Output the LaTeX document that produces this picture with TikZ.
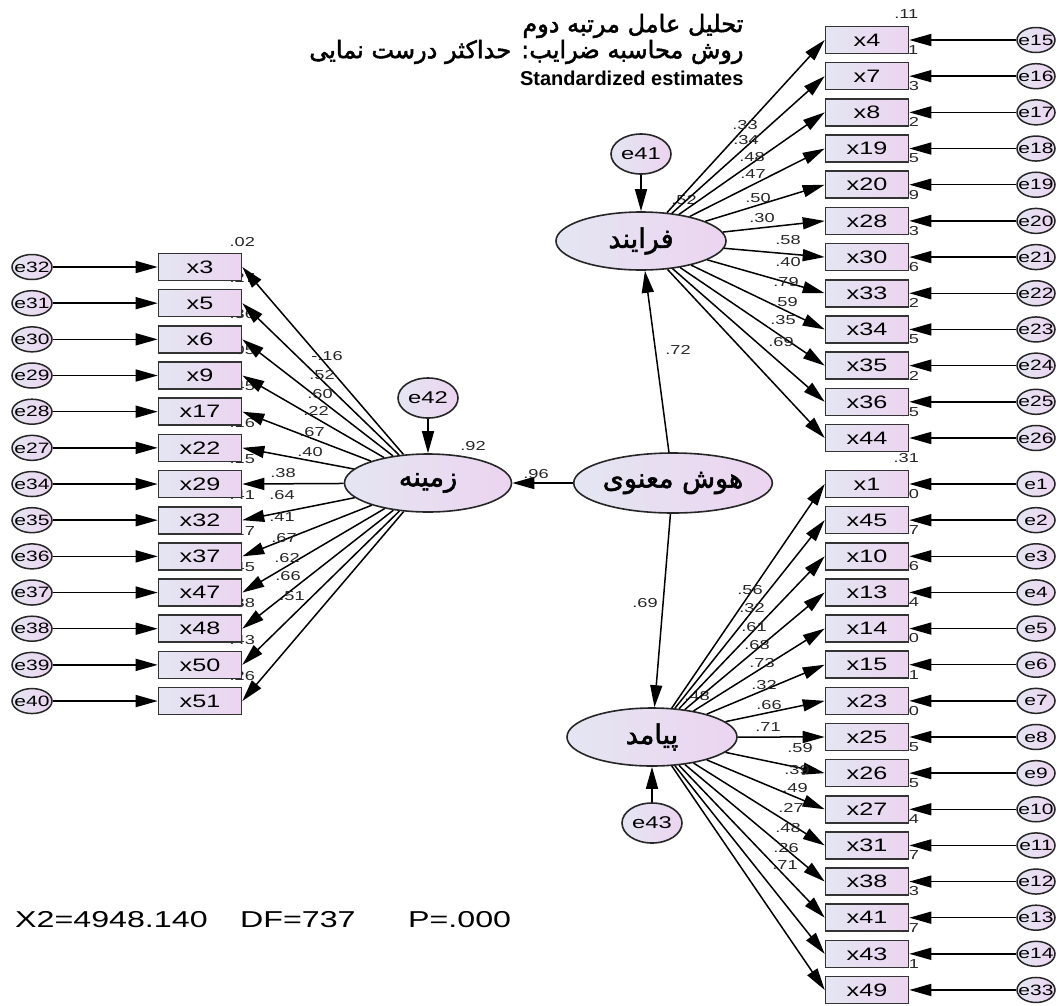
\documentclass[tikz,border=0pt]{standalone}
\usepackage{fontspec}
\setmainfont{Liberation Sans}[FakeStretch=1.4]
\newfontfamily\titlefont{Liberation Sans}
\newfontfamily\fabold[Script=Arabic,FakeBold=2]{DejaVu Sans}
\TeXXeTstate=1
\usetikzlibrary{shapes.geometric,arrows.meta}
\pgfdeclarelayer{bg}
\pgfsetlayers{bg,main}

\definecolor{shL}{RGB}{228,230,242}
\definecolor{shR}{RGB}{236,212,240}

\tikzset{
  obs/.style={rectangle, draw=black!80, line width=1.6pt, minimum width=83pt, minimum height=27pt, inner sep=0pt, left color=shL, right color=shR, font=\fontsize{18}{18}\selectfont},
  err/.style={ellipse, draw=black!85, line width=1.5pt, minimum width=40pt, minimum height=25pt, inner sep=0pt, left color=shL, right color=shR},
  errtxt/.style={font=\fontsize{15}{15}\selectfont, inner sep=0pt},
  errbig/.style={ellipse, draw=black!85, line width=1.6pt, minimum width=60pt, minimum height=40pt, inner sep=0pt, left color=shL, right color=shR, font=\fontsize{17}{17}\selectfont},
  latent/.style={ellipse, draw=black!85, line width=1.6pt, minimum width=170pt, minimum height=58pt, inner sep=0pt, left color=shL, right color=shR, font=\fabold\fontsize{27}{27}\selectfont},
  arr/.style={draw=black, line width=1.5pt, -{Triangle[length=22pt,width=12pt]}},
  ldg/.style={font=\fontsize{13}{13}\selectfont, inner sep=0pt, text=black!85},
}

\begin{document}
\begin{tikzpicture}[x=1pt,y=-1pt]

    \useasboundingbox (0,0) rectangle (1057,1005);

    % Titles
    \node[font=\fabold\fontsize{24}{24}\selectfont, anchor=east] (t1) at (747,26) {\beginR تحلیل عامل مرتبه دوم\endR};
    \node[font=\fabold\fontsize{24}{24}\selectfont, anchor=east] (t2) at (747,52) {\beginR روش محاسبه ضرایب: حداکثر درست نمایی\endR};
    \node[font=\titlefont\bfseries\fontsize{20}{20}\selectfont, anchor=east] (t3) at (747,78) {Standardized estimates};

    % Latent variables
    \node[latent] (fr) at (641,241) {\beginR فرایند\endR};
    \node[latent, minimum width=167pt] (zm) at (428,483) {\beginR زمینه\endR};
    \node[latent, minimum width=177pt, minimum height=60pt] (hm) at (673,483) {\beginR هوش معنوی\endR};
    \node[latent] (pm) at (652,737) {\beginR پیامد\endR};

    \node[errbig] (e41) at (641,154) {e41};
    \node[errbig] (e42) at (428,398) {e42};
    \node[errbig] (e43) at (652,823) {e43};

    \draw[arr] (e41) -- (fr);
    \draw[arr] (e42) -- (zm);
    \draw[arr] (e43) -- (pm);
    \draw[arr] (hm) -- (zm);
    \draw[arr] (hm) -- (fr);
    \draw[arr] (hm) -- (pm);

    \node[ldg] (rfr) at (684,200) {.52};
    \node[ldg] (rzm) at (473,446) {.92};
    \node[ldg] (rpm) at (697,696) {.48};
    \node[ldg] (phz) at (536,474) {.96};
    \node[ldg] (phf) at (678,350) {.72};
    \node[ldg] (php) at (645,603) {.69};

    % Left indicators
    \foreach \nm/\ee/\rs [count=\i from 0] in {3/32/.02,5/31/.27,6/30/.36,9/29/.05,17/28/.45,22/27/.16,29/34/.15,32/35/.41,37/36/.17,47/37/.45,48/38/.38,50/39/.43,51/40/.26} {
        \pgfmathsetmacro{\yy}{267+36.17*\i}
        \node[obs] (x\nm) at (200,\yy) {x\nm};
        \node[err, label={[errtxt]center:e\ee}] (e\ee) at (32,\yy) {};
        \draw[arr] (e\ee) -- (x\nm);
        \draw[arr] (zm) -- (x\nm.east);
        \begin{pgfonlayer}{bg}
            \node[ldg] (r\nm) at ([yshift=11pt]x\nm.north east) {\rs};
        \end{pgfonlayer}
    }

    % Right indicators, top
    \foreach \nm/\ee/\rs [count=\i from 0] in {4/15/.11,7/16/.11,8/17/.23,19/18/.22,20/19/.25,28/20/.09,30/21/.33,33/22/.16,34/23/.62,35/24/.35,36/25/.12,44/26/.35} {
        \pgfmathsetmacro{\yy}{40+36.18*\i}
        \node[obs] (x\nm) at (867,\yy) {x\nm};
        \node[err, minimum width=38pt, label={[errtxt]center:e\ee}] (e\ee) at (1036,\yy) {};
        \draw[arr] (e\ee) -- (x\nm);
        \draw[arr] (fr) -- (x\nm.west);
        \begin{pgfonlayer}{bg}
            \node[ldg] (r\nm) at ([xshift=-3pt,yshift=12pt]x\nm.north east) {\rs};
        \end{pgfonlayer}
    }

    % Right indicators, bottom
    \foreach \nm/\ee/\rs [count=\i from 0] in {1/1/.31,45/2/.10,10/3/.37,13/4/.46,14/5/.54,15/6/.10,23/7/.31,25/8/.50,26/9/.35,27/10/.15,31/11/.24,38/12/.07,41/13/.23,43/14/.07,49/33/.51} {
        \pgfmathsetmacro{\yy}{484+36.14*\i}
        \node[obs] (x\nm) at (867,\yy) {x\nm};
        \node[err, minimum width=38pt, label={[errtxt]center:e\ee}] (e\ee) at (1036,\yy) {};
        \draw[arr] (e\ee) -- (x\nm);
        \draw[arr] (pm) -- (x\nm.west);
        \begin{pgfonlayer}{bg}
            \node[ldg] (r\nm) at ([xshift=-3pt,yshift=12pt]x\nm.north east) {\rs};
        \end{pgfonlayer}
    }

    % Loadings
    \foreach \nm/\lx/\ly/\lab in {3/327/356/-.16,5/322/375/.52,6/320/394/.60,9/316/411/.22,17/312/432/.67,22/310/452/.40,29/283/473/.38,32/282/495/.64,37/282/517/.41,47/284/538/.67,48/287/558/.62,50/288/576/.66,51/292/596/.51,
        4/745/125/.33,7/746/140/.34,8/752/157/.48,19/753/174/.47,20/758/198/.50,28/762/218/.30,30/788/240/.58,33/788/262/.40,34/786/282/.79,35/785/302/.59,36/783/320/.35,44/781/342/.69,
        1/750/590/.56,45/752/608/.32,10/754/627/.61,13/757/645/.68,14/762/663/.73,15/764/685/.32,23/769/705/.66,25/768/727/.71,26/800/748/.59,27/797/770/.39,31/795/788/.49,38/791/808/.27,41/788/828/.48,43/786/848/.26,49/785/865/.71} {
        \node[ldg] (l\nm) at (\lx,\ly) {\lab};
    }

    % Fit
    \node[anchor=west, font=\fontsize{23}{23}\selectfont, inner sep=0pt] (fx) at (15,920) {X2=4948.140};
    \node[anchor=west, font=\fontsize{23}{23}\selectfont, inner sep=0pt] (fd) at (240,920) {DF=737};
    \node[anchor=west, font=\fontsize{23}{23}\selectfont, inner sep=0pt] (fp) at (408,920) {P=.000};

\end{tikzpicture}
\end{document}
